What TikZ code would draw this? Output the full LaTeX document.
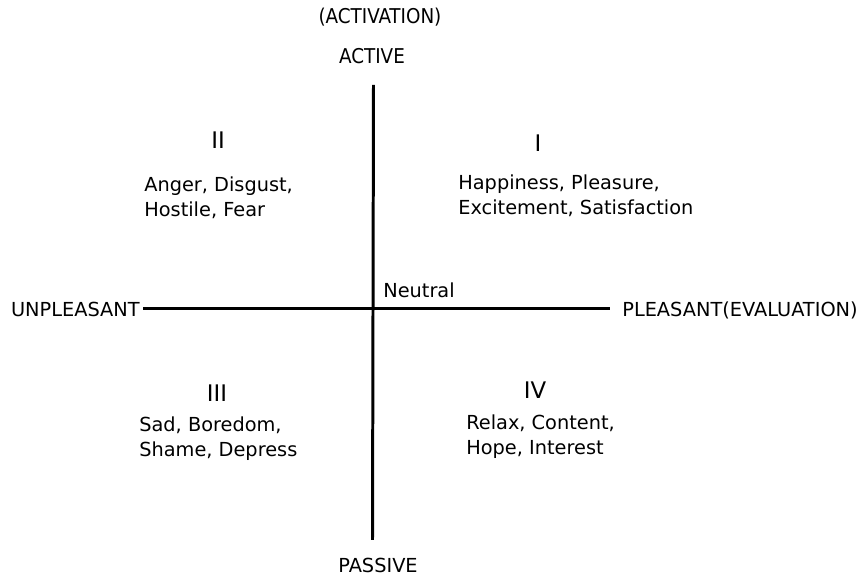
\documentclass[tikz,border=0pt]{standalone}
\usepackage{fontspec}
\setmainfont{DejaVu Sans}
\newfontfamily\condfont{DejaVu Sans Condensed}
\usetikzlibrary{positioning}
\definecolor{ink}{HTML}{000000}
\tikzset{
  every node/.style={font=\fontsize{11}{14.2}\selectfont, inner sep=0pt},
  % --- nodes
  axlbl/.style  = {text=ink},
  toplbl/.style = {text=ink, font=\fontsize{11.6}{14}\selectfont\condfont},
  quad/.style   = {text=ink, font=\fontsize{13}{15}\selectfont},
  emo/.style    = {text=ink, align=left, anchor=west},
  % --- edges
  axis/.style   = {draw=ink, line width=1.7pt},
}
\begin{document}
\begin{tikzpicture}
  \useasboundingbox (0,0) rectangle (17.16,11.52);
  % axes
  \coordinate (vtop) at (7.47,9.82);
  \coordinate (vbot) at (7.45,0.72);
  \coordinate (hl) at (2.86,5.34);
  \coordinate (hr) at (12.2,5.34);
  \draw[axis] (vtop) -- (vbot);
  \draw[axis] (hl) -- (hr);
  % axis labels
  \node[toplbl] (activation) at (7.6,11.18) {(ACTIVATION)};
  \node[toplbl] (active) at (7.44,10.4) {ACTIVE};
  \node[axlbl] (passive) at (7.56,0.22) {PASSIVE};
  \node[axlbl, anchor=east] (unpleasant) at (2.8,5.34) {UNPLEASANT};
  \node[axlbl, anchor=west] (pleasant) at (12.44,5.32) {PLEASANT(EVALUATION)};
  \node[axlbl, anchor=west] (neutral) at (7.66,5.72) {Neutral};
  % quadrants
  \node[quad] (q1) at (10.76,8.66) {I};
  \node[quad] (q2) at (4.36,8.72) {II};
  \node[quad] (q3) at (4.34,3.66) {III};
  \node[quad] (q4) at (10.7,3.72) {IV};
  \node[emo] (e1) at (9.16,7.61) {Happiness, Pleasure,\\Excitement, Satisfaction};
  \node[emo] (e2) at (2.88,7.57) {Anger, Disgust,\\Hostile, Fear};
  \node[emo] (e3) at (2.78,2.74) {Sad, Boredom,\\Shame, Depress};
  \node[emo] (e4) at (9.32,2.79) {Relax, Content,\\Hope, Interest};
\end{tikzpicture}
\end{document}
